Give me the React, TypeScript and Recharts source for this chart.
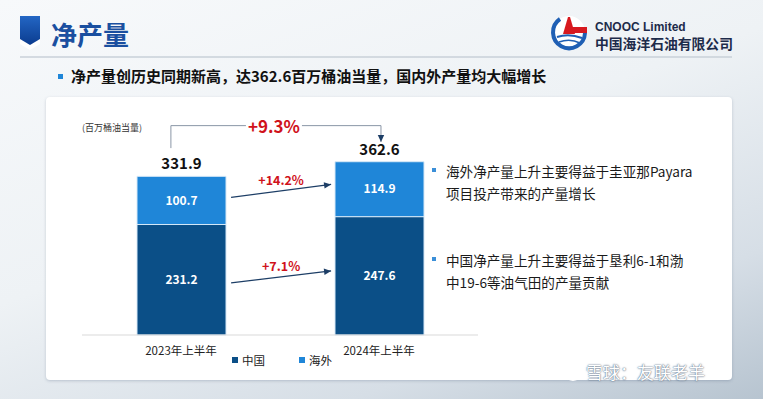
import { BarChart, Bar, XAxis, YAxis, LabelList, Legend, ReferenceLine } from "recharts";

const periods = ["2023年上半年", "2024年上半年"];
const china = [231.2, 247.6];
const overseas = [100.7, 114.9];
const totals = [331.9, 362.6];

// growth annotations: [label, x1, y1, x2, y2] on the hidden numeric axis (0..1) and value axis
const totalGrowth = "+9.3%";
const overseasGrowth = ["+14.2%", 0.3765, 288, 0.629, 315] as const;
const chinaGrowth = ["+7.1%", 0.3765, 109, 0.629, 134] as const;
const bracketX = [0.2245, 0.755];
const bracketY = [391, 438, 404];

const CJK = '"Noto Sans CJK SC", "Noto Sans", sans-serif';
const DARK = "#0b4f87";
const LIGHT = "#1f86d8";
const RED = "#d0121b";
const ARROW = "#1d3e66";

const data = periods.map((period, i) => ({
  period,
  china: china[i],
  overseas: overseas[i],
  total: totals[i],
}));

const head = (x1: number, y1: number, x2: number, y2: number, color: string) => {
  const a = Math.atan2(y2 - y1, x2 - x1);
  const l = 7;
  const w = 3.2;
  const bx = x2 - l * Math.cos(a);
  const by = y2 - l * Math.sin(a);
  const pts = [
    [x2, y2],
    [bx + w * Math.sin(a), by - w * Math.cos(a)],
    [bx - w * Math.sin(a), by + w * Math.cos(a)],
  ];
  return <polygon points={pts.map((p) => p.join(",")).join(" ")} fill={color} />;
};

const arrowShape = (label: string) => (props: any) => {
  const { x1, y1, x2, y2 } = props;
  return (
    <g>
      <line x1={x1} y1={y1} x2={x2} y2={y2} stroke={ARROW} strokeWidth={1.2} />
      {head(x1, y1, x2, y2, ARROW)}
      <text
        x={(x1 + x2) / 2}
        y={(y1 + y2) / 2 - 11}
        textAnchor="middle"
        dominantBaseline="central"
        fill={RED}
        fontSize={12.5}
        fontWeight={700}
        fontFamily={CJK}
      >
        {label}
      </text>
    </g>
  );
};

const plainLine = (props: any) => {
  const { x1, y1, x2, y2 } = props;
  return <line x1={x1} y1={y1} x2={x2} y2={y2} stroke="#8a96a6" strokeWidth={1} />;
};

const downArrow = (props: any) => {
  const { x1, y1, x2, y2 } = props;
  return (
    <g>
      <line x1={x1} y1={y1} x2={x2} y2={y2} stroke="#8a96a6" strokeWidth={1} />
      {head(x1, y1, x2, y2, ARROW)}
    </g>
  );
};

const gapLine = (props: any) => {
  const { x1, y1, x2, y2 } = props;
  const mid = (x1 + x2) / 2 - 2;
  return (
    <g>
      <line x1={x1} y1={y1} x2={mid - 28} y2={y2} stroke="#8a96a6" strokeWidth={1} />
      <line x1={mid + 28} y1={y1} x2={x2} y2={y2} stroke="#8a96a6" strokeWidth={1} />
      <text
        x={mid}
        y={y1}
        textAnchor="middle"
        dominantBaseline="central"
        fill={RED}
        fontSize={17}
        fontWeight={700}
        fontFamily={CJK}
      >
        {totalGrowth}
      </text>
    </g>
  );
};

const LegendContent = ({ payload }: any) => (
  <div style={{ display: "flex", gap: 34, height: 16, alignItems: "center", fontSize: 11.5, color: "#222" }}>
    {(payload || []).map((p: any) => (
      <div key={p.value} style={{ display: "flex", alignItems: "center", gap: 4 }}>
        <span style={{ width: 6, height: 6, background: p.color, display: "inline-block" }} />
        {p.value}
      </div>
    ))}
  </div>
);

const App = () => {
  return (
    <div
      style={{
        position: "absolute",
        left: 0,
        top: 0,
        width: 763,
        height: 399,
        overflow: "hidden",
        fontFamily: CJK,
        background: "linear-gradient(160deg, #f7f9fb 0%, #eef2f5 45%, #d6dee6 78%, #b7c4d0 100%)",
      }}
    >
      {/* header */}
      <svg width={763} height={60} style={{ position: "absolute", left: 0, top: 0 }}>
        <defs>
          <linearGradient id="ico" x1="0" y1="0" x2="0" y2="1">
            <stop offset="0%" stopColor="#2366c4" />
            <stop offset="100%" stopColor="#0b3c8f" />
          </linearGradient>
        </defs>
        <polygon points="20,20 40,20 40,44 30,50 20,44" fill="#ffffff" />
        <polygon points="20,16 40,16 40,39 30,45 20,39" fill="url(#ico)" />
        <line x1={20} y1={57} x2={732} y2={57} stroke="#c9d1d9" strokeWidth={1.5} />
        {/* logo */}
        <circle cx={569} cy={32} r={16} fill="#ffffff" />
        <path d="M560 19 A16 16 0 1 0 585 33" fill="none" stroke="#1f5fb4" strokeWidth={4} />
        <path d="M557 37 Q569 33 582 38" fill="none" stroke="#1f5fb4" strokeWidth={2} />
        <path d="M559 42 Q570 38 580 43" fill="none" stroke="#1f5fb4" strokeWidth={1.5} />
        <path d="M563 34 L568 17 L570 17 L575 34 Z" fill="#d7191f" />
        <rect x={573} y={27} width={14} height={6} fill="#d7191f" />
      </svg>
      <div style={{ position: "absolute", left: 51, top: 18, fontSize: 26, fontWeight: 700, color: "#1a4fa0", lineHeight: "32px" }}>
        净产量
      </div>
      <div style={{ position: "absolute", left: 595, top: 21, fontSize: 12, fontWeight: 700, color: "#1d2b4a", fontFamily: "Arial, 'Liberation Sans', sans-serif", lineHeight: "12px" }}>
        CNOOC Limited
      </div>
      <div style={{ position: "absolute", left: 595, top: 36, fontSize: 13.8, fontWeight: 700, color: "#1d2b4a", lineHeight: "14px", whiteSpace: "nowrap" }}>
        中国海洋石油有限公司
      </div>
      <div style={{ position: "absolute", left: 58, top: 74, width: 5, height: 5, background: "#1f86d8" }} />
      <div style={{ position: "absolute", left: 71, top: 66, fontSize: 15, fontWeight: 700, color: "#111", lineHeight: "20px", whiteSpace: "nowrap" }}>
        净产量创历史同期新高，达362.6百万桶油当量，国内外产量均大幅增长
      </div>

      {/* panel */}
      <div
        style={{
          position: "absolute",
          left: 46,
          top: 97,
          width: 686,
          height: 283,
          background: "#ffffff",
          borderRadius: 4,
          boxShadow: "0 1px 3px rgba(60,80,110,0.25)",
        }}
      />

      <div style={{ position: "absolute", left: 82, top: 122, fontSize: 9, color: "#333", lineHeight: "12px" }}>
        (百万桶油当量)
      </div>

      <div style={{ position: "absolute", left: 0, top: 0 }}>
        <BarChart
          width={520}
          height={399}
          data={data}
          margin={{ top: 96, right: 42, left: 82, bottom: 24 }}
          barSize={89}
          style={{ fontFamily: CJK }}
        >
          <XAxis
            dataKey="period"
            axisLine={{ stroke: "#d9d9d9" }}
            tickLine={false}
            height={24}
            tickMargin={6}
            tick={{ fontSize: 11.5, fill: "#222" }}
          />
          <XAxis xAxisId="n" type="number" domain={[0, 1]} allowDataOverflow hide />
          <YAxis domain={[0, 500]} hide />
          <Legend
            verticalAlign="bottom"
            content={<LegendContent />}
            wrapperStyle={{ left: 232, top: 352, width: 120, height: 16 }}
          />
          <Bar dataKey="china" name="中国" stackId="a" fill={DARK} stroke="#d6e8f7" strokeWidth={1} isAnimationActive={false}>
            <LabelList dataKey="china" position="center" fill="#ffffff" fontSize={12} fontWeight={700} />
          </Bar>
          <Bar dataKey="overseas" name="海外" stackId="a" fill={LIGHT} stroke="#d6e8f7" strokeWidth={1} isAnimationActive={false}>
            <LabelList dataKey="overseas" position="center" fill="#ffffff" fontSize={12} fontWeight={700} />
            <LabelList dataKey="total" position="top" offset={7} fill="#111" fontSize={15} fontWeight={700} />
          </Bar>
          <ReferenceLine
            xAxisId="n"
            ifOverflow="visible"
            segment={[{ x: bracketX[0], y: bracketY[0] }, { x: bracketX[0], y: bracketY[1] }]}
            shape={plainLine}
          />
          <ReferenceLine
            xAxisId="n"
            ifOverflow="visible"
            segment={[{ x: bracketX[0], y: bracketY[1] }, { x: bracketX[1], y: bracketY[1] }]}
            shape={gapLine}
          />
          <ReferenceLine
            xAxisId="n"
            ifOverflow="visible"
            segment={[{ x: bracketX[1], y: bracketY[1] }, { x: bracketX[1], y: bracketY[2] }]}
            shape={downArrow}
          />
          <ReferenceLine
            xAxisId="n"
            ifOverflow="visible"
            segment={[{ x: overseasGrowth[1], y: overseasGrowth[2] }, { x: overseasGrowth[3], y: overseasGrowth[4] }]}
            shape={arrowShape(overseasGrowth[0])}
          />
          <ReferenceLine
            xAxisId="n"
            ifOverflow="visible"
            segment={[{ x: chinaGrowth[1], y: chinaGrowth[2] }, { x: chinaGrowth[3], y: chinaGrowth[4] }]}
            shape={arrowShape(chinaGrowth[0])}
          />
        </BarChart>
      </div>

      {/* notes */}
      {[
        { top: 160, lines: ["海外净产量上升主要得益于圭亚那Payara", "项目投产带来的产量增长"] },
        { top: 249, lines: ["中国净产量上升主要得益于垦利6-1和渤", "中19-6等油气田的产量贡献"] },
      ].map((n) => (
        <div key={n.top}>
          <div style={{ position: "absolute", left: 432, top: n.top + 8, width: 4, height: 4, background: "#3b8fd8" }} />
          <div style={{ position: "absolute", left: 446, top: n.top, fontSize: 13.6, color: "#1a1a1a", lineHeight: "22px", whiteSpace: "nowrap" }}>
            {n.lines[0]}
            <br />
            {n.lines[1]}
          </div>
        </div>
      ))}

      {/* watermark */}
      <svg width={20} height={20} style={{ position: "absolute", left: 563, top: 362 }}>
        <circle cx={10} cy={10} r={8} fill="none" stroke="#ffffff" strokeWidth={2} />
        <path d="M5 7 L10 12 L15 7 M7 15 L11 11" fill="none" stroke="#ffffff" strokeWidth={1.8} />
      </svg>
      <div
        style={{
          position: "absolute",
          left: 586,
          top: 361,
          fontSize: 17,
          color: "#ffffff",
          lineHeight: "22px",
          whiteSpace: "nowrap",
          textShadow: "0 0 2px rgba(80,100,125,0.9), 0 0 1px rgba(80,100,125,0.9)",
        }}
      >
        雪球：友联老羊
      </div>
    </div>
  );
};

export default App;
